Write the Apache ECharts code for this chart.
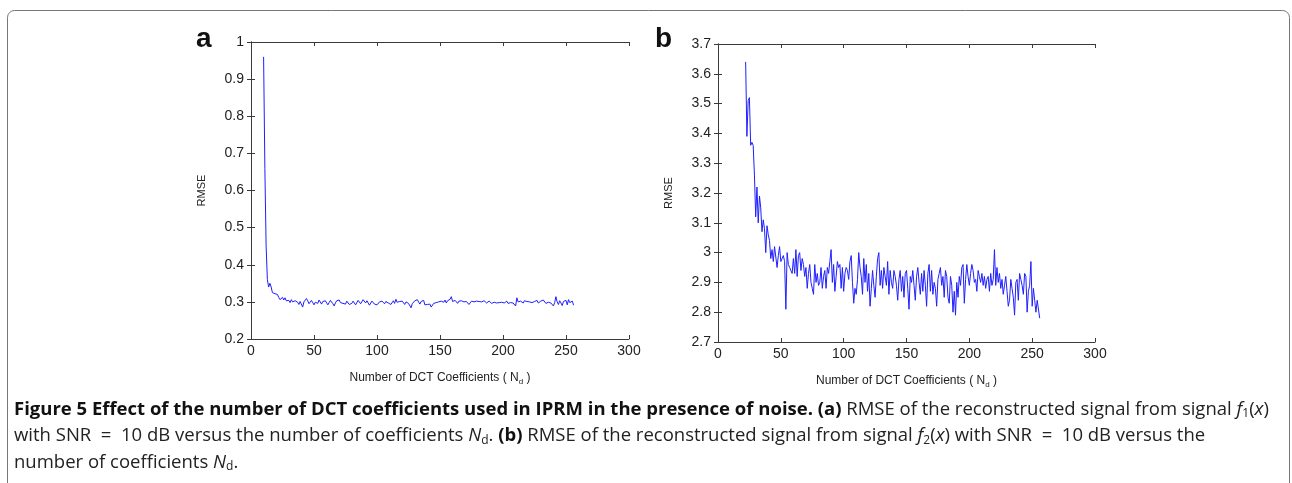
<!DOCTYPE html>
<html>
<head>
<meta charset="utf-8">
<title>Figure 5</title>
<script src="https://cdn.jsdelivr.net/npm/echarts@6/dist/echarts.min.js"></script>
<style>
  html, body { margin: 0; padding: 0; background: #fff; }
  #chart { width: 1292px; height: 483px; }
</style>
</head>
<body>
<div id="chart"></div>
<script>
// panel a: RMSE for f1(x), Nd = 10 .. 256
const startA = 10
const rmseA = [
  0.96, 0.66, 0.45, 0.36, 0.34, 0.35, 0.34, 0.325, 0.32, 0.322,
  0.318, 0.32, 0.312, 0.306, 0.31, 0.312, 0.305, 0.311, 0.303, 0.30,
  0.304, 0.298, 0.306, 0.300, 0.296, 0.303, 0.308, 0.299, 0.293, 0.301,
  0.297, 0.286, 0.300, 0.305, 0.309, 0.303, 0.295, 0.300, 0.304, 0.298,
  0.292, 0.299, 0.302, 0.296, 0.305, 0.300, 0.294, 0.301, 0.297, 0.303,
  0.299, 0.292, 0.298, 0.304, 0.300, 0.295, 0.289, 0.297, 0.303, 0.300,
  0.305, 0.298, 0.301, 0.296, 0.300, 0.294, 0.302, 0.299, 0.293, 0.298,
  0.296, 0.302, 0.299, 0.292, 0.297, 0.304, 0.300, 0.295, 0.298, 0.306,
  0.301, 0.297, 0.303, 0.299, 0.291, 0.296, 0.302, 0.300, 0.294, 0.298,
  0.292, 0.296, 0.300, 0.298, 0.302, 0.299, 0.295, 0.301, 0.304, 0.297,
  0.300, 0.293, 0.298, 0.303, 0.296, 0.307, 0.299, 0.294, 0.301, 0.297,
  0.302, 0.298, 0.293, 0.300, 0.304, 0.296, 0.301, 0.284, 0.295, 0.299,
  0.303, 0.298, 0.306, 0.300, 0.294, 0.301, 0.298, 0.304, 0.292, 0.297,
  0.293, 0.289, 0.294, 0.286, 0.291, 0.296, 0.293, 0.298, 0.294, 0.300,
  0.296, 0.302, 0.298, 0.299, 0.305, 0.297, 0.303, 0.299, 0.307, 0.314,
  0.301, 0.298, 0.304, 0.300, 0.296, 0.302, 0.299, 0.303, 0.298, 0.300,
  0.297, 0.301, 0.299, 0.293, 0.296, 0.302, 0.298, 0.300, 0.299, 0.302,
  0.297, 0.301, 0.298, 0.300, 0.296, 0.303, 0.299, 0.297, 0.300, 0.302,
  0.298, 0.296, 0.301, 0.299, 0.302, 0.297, 0.300, 0.298, 0.303, 0.299,
  0.301, 0.297, 0.299, 0.302, 0.296, 0.300, 0.298, 0.301, 0.297, 0.293,
  0.289, 0.311, 0.300, 0.296, 0.302, 0.299, 0.297, 0.303, 0.298, 0.301,
  0.296, 0.300, 0.302, 0.298, 0.295, 0.301, 0.299, 0.304, 0.297, 0.300,
  0.302, 0.298, 0.305, 0.300, 0.296, 0.301, 0.299, 0.303, 0.297, 0.292,
  0.289, 0.298, 0.314, 0.300, 0.293, 0.303, 0.297, 0.290, 0.301, 0.299,
  0.304, 0.292, 0.306, 0.298, 0.297, 0.302, 0.291
]

// panel b: RMSE for f2(x), Nd = 22 .. 256
const startB = 22
const rmseB = [
  3.64, 3.39, 3.51, 3.52, 3.36, 3.37, 3.36, 3.26, 3.12, 3.22,
  3.10, 3.19, 3.15, 3.07, 3.11, 3.08, 3.00, 3.09, 3.06, 3.04,
  2.98, 3.01, 2.97, 3.02, 3.02, 2.95, 2.99, 3.02, 2.97, 2.98,
  2.99, 2.97, 2.81, 3.00, 2.96, 2.95, 2.94, 2.93, 2.98, 2.93,
  3.01, 2.92, 2.99, 3.00, 2.94, 2.98, 2.96, 2.92, 2.95, 2.88,
  2.93, 2.96, 2.90, 2.88, 2.86, 2.96, 2.90, 2.93, 2.89, 2.90,
  2.95, 2.88, 2.92, 2.94, 2.88, 2.95, 2.93, 2.97, 3.01, 2.90,
  2.96, 2.87, 2.92, 2.97, 2.95, 2.96, 2.88, 2.95, 2.87, 2.93,
  2.95, 2.94, 2.91, 2.97, 2.99, 2.90, 2.83, 2.88, 2.86, 2.91,
  3.00, 2.95, 2.92, 2.86, 2.98, 2.90, 2.96, 2.87, 2.93, 2.82,
  2.88, 2.94, 2.89, 2.85, 2.92, 2.98, 3.00, 2.89, 2.94, 2.88,
  2.95, 2.92, 2.89, 2.97, 2.86, 2.94, 2.90, 2.88, 2.94, 2.92,
  2.89, 2.84, 2.91, 2.94, 2.87, 2.92, 2.85, 2.93, 2.94, 2.88,
  2.81, 2.92, 2.90, 2.94, 2.89, 2.84, 2.92, 2.95, 2.90, 2.86,
  2.93, 2.87, 2.94, 2.89, 2.82, 2.93, 2.96, 2.87, 2.94, 2.86,
  2.90, 2.88, 2.82, 2.91, 2.93, 2.95, 2.89, 2.92, 2.85, 2.94,
  2.92, 2.85, 2.83, 2.92, 2.89, 2.80, 2.87, 2.79, 2.90, 2.85,
  2.92, 2.89, 2.95, 2.96, 2.83, 2.91, 2.96, 2.92, 2.89, 2.93,
  2.96, 2.94, 2.90, 2.91, 2.87, 2.94, 2.92, 2.90, 2.93, 2.89,
  2.92, 2.88, 2.91, 2.92, 2.87, 2.93, 2.89, 2.91, 3.01, 2.89,
  2.95, 2.90, 2.93, 2.88, 2.91, 2.86, 2.89, 2.92, 2.87, 2.82,
  2.84, 2.91, 2.88, 2.85, 2.79, 2.90, 2.91, 2.84, 2.93, 2.91,
  2.89, 2.86, 2.93, 2.92, 2.80, 2.87, 2.89, 2.97, 2.82, 2.88,
  2.84, 2.80, 2.84, 2.84, 2.78
]

const xTicks = { min: 0, max: 300, interval: 50 }
const yTicksA = { min: 0.2, max: 1, interval: 0.1 }
const yTicksB = { min: 2.7, max: 3.7, interval: 0.1 }

const axisColor = '#3a3a3a'
const lineColor = '#1f1fff'
const tickFont = 'Liberation Sans'

function xAxisPair(grid) {
  const base = {
    type: 'value',
    gridIndex: grid,
    min: xTicks.min,
    max: xTicks.max,
    interval: xTicks.interval,
    splitLine: { show: false },
    axisLine: { lineStyle: { color: axisColor, width: 1 } },
    axisTick: { inside: true, length: 4, lineStyle: { color: axisColor } }
  }
  return [
    Object.assign({}, base, {
      position: 'bottom',
      axisLabel: { color: '#222', fontSize: 14, fontFamily: tickFont, margin: 5, showMinLabel: true, showMaxLabel: true },
      name: 'Number of DCT Coefficients ( N{sub|d} )',
      nameLocation: 'middle',
      nameGap: 31,
      nameTextStyle: {
        color: '#222', fontSize: 12, fontFamily: tickFont,
        rich: { sub: { fontSize: 8, fontFamily: tickFont, color: '#222', padding: [8, 0, 0, 0] } }
      }
    }),
    Object.assign({}, base, { position: 'top', axisLabel: { show: false } })
  ]
}

function yAxisPair(grid, t) {
  const base = {
    type: 'value',
    gridIndex: grid,
    min: t.min,
    max: t.max,
    interval: t.interval,
    splitLine: { show: false },
    axisLine: { lineStyle: { color: axisColor, width: 1 } },
    axisTick: { inside: true, length: 4, lineStyle: { color: axisColor } }
  }
  return [
    Object.assign({}, base, {
      position: 'left',
      axisLabel: { color: '#222', fontSize: 14, fontFamily: tickFont, margin: 7, showMinLabel: true, showMaxLabel: true },
      name: 'RMSE',
      nameLocation: 'middle',
      nameGap: 44,
      nameTextStyle: { color: '#222', fontSize: 11, fontFamily: tickFont }
    }),
    Object.assign({}, base, { position: 'right', axisLabel: { show: false } })
  ]
}

const capFont = '"Open Sans", "Noto Sans", sans-serif'
const capSize = 18.5
const capRich = {
  b: { fontWeight: 'bold', fontSize: capSize, fontFamily: capFont, fill: '#111' },
  i: { fontStyle: 'italic', fontSize: capSize, fontFamily: capFont, fill: '#222' },
  s: { fontSize: 12, fontFamily: capFont, fill: '#222', padding: [9, 0, 0, 0] }
}
const capLines = [
  '{b|Figure 5 Effect of the number of DCT coefficients used in IPRM in the presence of noise. (a)} RMSE of the reconstructed signal from signal {i|f}{s|1}({i|x})',
  'with SNR  =  10 dB versus the number of coefficients {i|N}{s|d}. {b|(b)} RMSE of the reconstructed signal from signal {i|f}{s|2}({i|x}) with SNR  =  10 dB versus the',
  'number of coefficients {i|N}{s|d}.'
]

const chart = echarts.init(document.getElementById('chart'))

chart.setOption({
  backgroundColor: '#fff',
  animation: false,
  grid: [
    { left: 251, top: 42, width: 378, height: 297 },
    { left: 718, top: 44, width: 377, height: 298 }
  ],
  xAxis: xAxisPair(0).concat(xAxisPair(1)),
  yAxis: yAxisPair(0, yTicksA).concat(yAxisPair(1, yTicksB)),
  series: [
    {
      type: 'line',
      xAxisIndex: 0,
      yAxisIndex: 0,
      showSymbol: false,
      lineStyle: { color: lineColor, width: 1 },
      data: rmseA.map((v, i) => [startA + i, v])
    },
    {
      type: 'line',
      xAxisIndex: 2,
      yAxisIndex: 2,
      showSymbol: false,
      lineStyle: { color: lineColor, width: 1 },
      data: rmseB.map((v, i) => [startB + i, v])
    }
  ],
  graphic: [
    {
      type: 'rect',
      shape: { x: 7.5, y: 10.5, width: 1282, height: 520, r: [7, 7, 0, 0] },
      style: { fill: 'none', stroke: '#777', lineWidth: 1 }
    },
    { type: 'text', left: 196, top: 25, style: { text: 'a', font: 'bold 28px "Liberation Sans", Arial', fill: '#111' } },
    { type: 'text', left: 655, top: 25, style: { text: 'b', font: 'bold 28px "Liberation Sans", Arial', fill: '#111' } }
  ].concat(capLines.map((t, k) => ({
    type: 'text',
    left: 14,
    top: 400 + k * 26.5,
    style: { text: t, fontSize: capSize, fontFamily: capFont, fill: '#222', rich: capRich }
  })))
})
</script>
</body>
</html>
